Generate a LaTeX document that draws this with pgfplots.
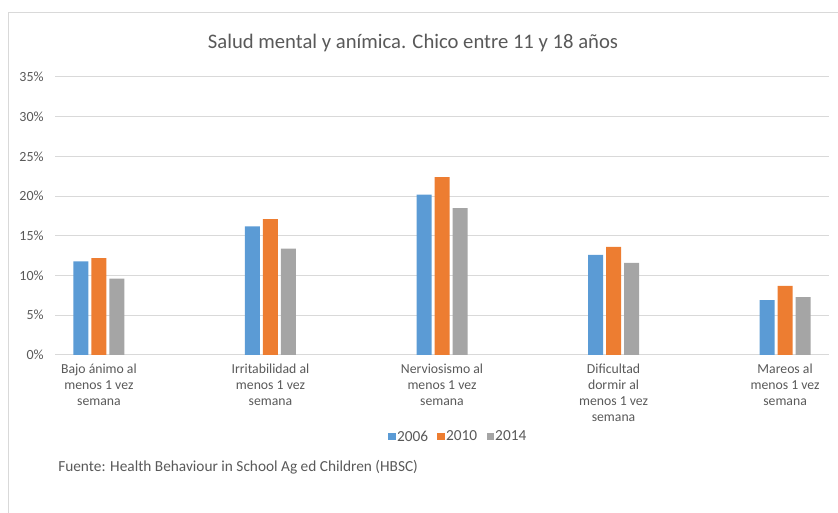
\documentclass[border=0pt]{standalone}
\usepackage{fontspec}
\setmainfont{Carlito}
\usepackage{pgfplots}
\pgfplotsset{compat=1.18}
\definecolor{c06}{HTML}{5B9BD5}
\definecolor{c10}{HTML}{ED7D31}
\definecolor{c14}{HTML}{A5A5A5}
\definecolor{txt}{HTML}{595959}
\definecolor{gridc}{HTML}{D9D9D9}
\begin{document}
\begin{tikzpicture}[x=0.75pt,y=0.75pt]
\path[use as bounding box] (0,0) rectangle (838,513);
\draw[gridc, line width=0.75pt] (8,0) -- (8,500) -- (838,500);
\begin{axis}[
  at={(41.25pt,118.5pt)}, anchor=south west,
  scale only axis, width=580.5pt, height=208.5pt,
  ymin=0, ymax=35, ytick={0,5,...,35},
  yticklabel={\pgfmathprintnumber{\tick}\%},
  /pgf/number format/assume math mode=true,
  xmin=-0.256, xmax=4.256, xtick={0,1,2,3,4},
  xticklabels={{Bajo ánimo al\\menos 1 vez\\semana},{Irritabilidad al\\menos 1 vez\\semana},{Nerviosismo al\\menos 1 vez\\semana},{Dificultad\\dormir al\\menos 1 vez\\semana},{Mareos al\\menos 1 vez\\semana}},
  x tick label style={align=center, font=\fontsize{10.3}{12}\selectfont, text=txt, anchor=north, yshift=-3pt},
  y tick label style={font=\fontsize{10.5}{12}\selectfont, text=txt, anchor=east, xshift=-5pt},
  major tick length=0pt,
  axis line style={draw=none},
  ymajorgrids, grid style={gridc, line width=0.75pt},
  ybar=2.25pt, bar width=11.25pt,
  legend columns=3,
  legend style={at={(0.5207,-0.295)}, anchor=center, draw=none, fill=none,
    font=\fontsize{11.5}{13}\selectfont, text=txt,
    /tikz/every even column/.append style={column sep=6pt},
    inner sep=0pt, nodes={inner sep=1pt}},
  legend image code/.code={\fill[#1] (0pt,-2.5pt) rectangle (5.5pt,3pt);},
]
\addplot[fill=c06, draw=none] coordinates {(0,11.8) (1,16.2) (2,20.2) (3,12.6) (4,6.9)};
\addplot[fill=c10, draw=none] coordinates {(0,12.2) (1,17.1) (2,22.4) (3,13.6) (4,8.7)};
\addplot[fill=c14, draw=none] coordinates {(0,9.6) (1,13.4) (2,18.5) (3,11.6) (4,7.3)};
\legend{2006,2010,2014}
\end{axis}
\node[text=txt, font=\fontsize{15.5}{18}\selectfont] at (413,470) {Salud mental y anímica. Chico entre 11 y 18 años};
\node[text=txt, font=\fontsize{11.5}{13}\selectfont, anchor=west, inner sep=0pt] at (58,46) {Fuente: Health Behaviour in School Ag ed Children (HBSC)};
\end{tikzpicture}
\end{document}
